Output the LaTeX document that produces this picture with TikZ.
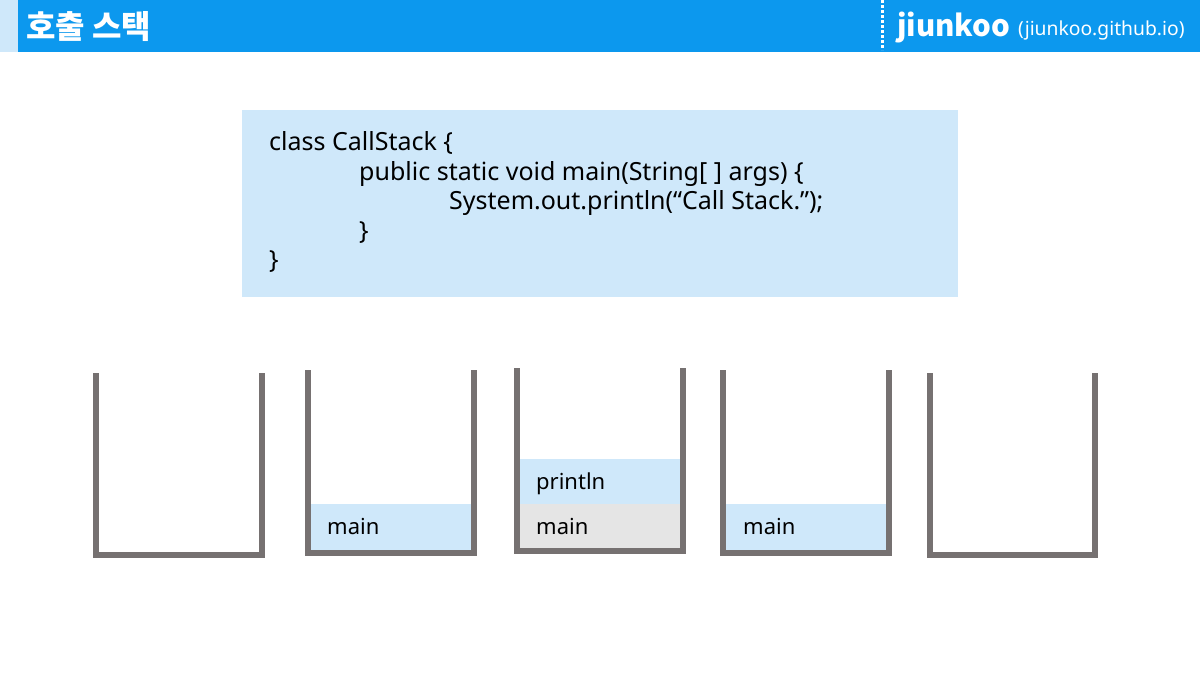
\documentclass[tikz,border=0pt]{standalone}
\usepackage{fontspec}
\setmainfont{Noto Sans}
\newfontfamily\krfont{Noto Sans CJK KR}
\definecolor{hdrblue}{HTML}{0C98EE}
\definecolor{lightblue}{HTML}{CFE8FA}
\definecolor{wallgray}{HTML}{767171}
\definecolor{framegray}{HTML}{E5E5E5}
\tikzset{
  wall/.style={draw=wallgray, line width=6pt, line join=miter, line cap=butt},
  codetext/.style={anchor=base west, inner sep=0pt, font=\fontsize{25}{30}\selectfont, text=black},
  frametext/.style={anchor=base west, inner sep=0pt, font=\fontsize{22}{27}\selectfont, text=black},
}
\begin{document}
\begin{tikzpicture}[x=1pt,y=-1pt]
\useasboundingbox (0,0) rectangle (1200,675);
\fill[white] (0,0) rectangle (1200,675);
% header
\fill[lightblue] (0,0) rectangle (18,52);
\fill[hdrblue] (18,0) rectangle (1200,52);
\node[anchor=west, inner sep=0pt, text=white, font=\krfont\bfseries\fontsize{32}{36}\selectfont] (title) at (26,26.5) {호출 스택};
\draw[white, line width=2.2pt, dash pattern=on 2.5pt off 2.5pt] (882.5,0) -- (882.5,50);
\node[anchor=base west, inner sep=0pt, text=white, font=\krfont\bfseries\fontsize{29.5}{34}\selectfont] (brand) at (897,36) {jiunkoo};
\node[anchor=base west, inner sep=0pt, text=white, font=\fontsize{19.3}{23}\selectfont] (site) at (1018,35.5) {(jiunkoo.github.io)};
% code box
\fill[lightblue] (242,110) rectangle (958,297);
\node[codetext] (l1) at (269,150) {class CallStack \{};
\node[codetext] (l2) at (359,180) {public static void main(String[ ] args) \{};
\node[codetext] (l3) at (449,209.5) {System.out.println(“Call Stack.”);};
\node[codetext] (l4) at (359,239) {\}};
\node[codetext] (l5) at (269,268) {\}};
% stack 1
\draw[wall] (96,373) -- (96,555) -- (262,555) -- (262,373);
% stack 2
\fill[lightblue] (311,504) rectangle (471,550);
\node[frametext] (s2main) at (327,534) {main};
\draw[wall] (308,370) -- (308,553) -- (474,553) -- (474,370);
% stack 3
\fill[lightblue] (520,459) rectangle (680,504);
\fill[framegray] (520,504) rectangle (680,548);
\node[frametext] (s3print) at (536,489) {println};
\node[frametext] (s3main) at (536,534) {main};
\draw[wall] (517,368) -- (517,550.5) -- (682.5,550.5) -- (682.5,368);
% stack 4
\fill[lightblue] (726,504) rectangle (886,550);
\node[frametext] (s4main) at (743,534) {main};
\draw[wall] (723,370) -- (723,553) -- (889,553) -- (889,370);
% stack 5
\draw[wall] (930,373) -- (930,555) -- (1095,555) -- (1095,373);
\end{tikzpicture}
\end{document}
